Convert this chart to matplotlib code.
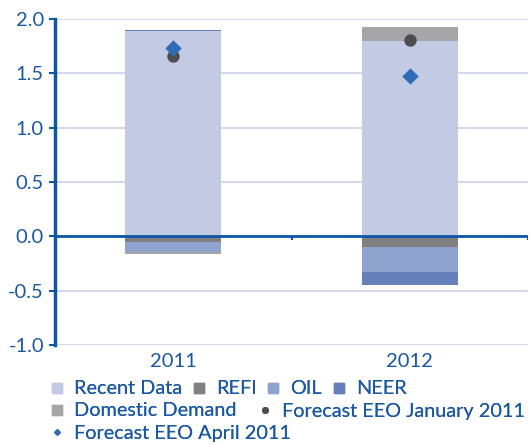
import matplotlib
matplotlib.use("Agg")
import matplotlib.pyplot as plt
import numpy as np
from matplotlib.lines import Line2D

plt.rcParams['font.family'] = ['Lato', 'DejaVu Sans']

categories = ['2011', '2012']
recent_data = [1.89, 1.80]
refi = [-0.05, -0.10]
oil = [-0.09, -0.23]
neer = [0.01, -0.12]
domestic_demand = [-0.02, 0.13]
forecast_jan = [1.66, 1.81]
forecast_apr = [1.735, 1.48]
yticks = [-1.0, -0.5, 0.0, 0.5, 1.0, 1.5, 2.0]

series = [
    ('Recent Data', recent_data, '#c3cbe4'),
    ('REFI', refi, '#808080'),
    ('OIL', oil, '#8fa3cf'),
    ('NEER', neer, '#6680bb'),
    ('Domestic Demand', domestic_demand, '#a6a6a8'),
]

TXT = '#1a58a4'
AX = '#0d58a6'

fig = plt.figure(figsize=(5.31, 4.45), dpi=100)
ax = fig.add_axes([55/531, 1-345/445, 473/531, (345-19)/445])

x = np.arange(len(categories))
w = 0.405
pos_base = np.zeros(len(x))
neg_base = np.zeros(len(x))
handles = {}
for name, vals, col in series:
    vals = np.array(vals, dtype=float)
    bottoms = np.where(vals >= 0, pos_base, neg_base)
    ax.bar(x, vals, w, bottom=bottoms, color=col, linewidth=0, zorder=2)
    pos_base = pos_base + np.where(vals >= 0, vals, 0)
    neg_base = neg_base + np.where(vals < 0, vals, 0)
    handles[name] = Line2D([], [], marker='s', linestyle='none', color=col, markersize=7)

ax.scatter(x, forecast_jan, s=80, color='#4d4d4f', marker='o', zorder=4, linewidths=0)
ax.scatter(x, forecast_apr, s=70, color='#2e6db5', marker='D', zorder=5, linewidths=0)
handles['Forecast EEO January 2011'] = Line2D([], [], marker='o', linestyle='none', color='#4d4d4f', markersize=4)
handles['Forecast EEO April 2011'] = Line2D([], [], marker='D', linestyle='none', color='#2e6db5', markersize=2.8)

ax.set_xlim(-0.5, 1.5)
ax.set_ylim(-1.0, 2.0)
ax.set_yticks(yticks)
ax.set_yticklabels([f'{v:.1f}' for v in yticks])
ax.yaxis.grid(True, color='#d3d8ec', linewidth=1.5, zorder=0)
ax.set_axisbelow(True)
ax.axhline(0, color=AX, linewidth=2, zorder=3)
ax.vlines([0.5, 1.5], -0.03, 0, color=AX, linewidth=1.5, zorder=3)

for s in ['top', 'right', 'bottom']:
    ax.spines[s].set_visible(False)
ax.spines['left'].set_color(AX)
ax.spines['left'].set_linewidth(2.5)
ax.tick_params(axis='y', colors=AX, labelcolor=TXT, length=4, width=1.5, labelsize=14.5, pad=4)
ax.set_xticks(x)
ax.set_xticklabels(categories)
ax.tick_params(axis='x', length=0, labelcolor=TXT, labelsize=14.5, pad=6)

def row(names, y, colsp):
    leg = fig.legend([handles[n] for n in names], names, loc='center left',
                     bbox_to_anchor=(49/531, 1 - y/445), ncol=len(names), frameon=False,
                     fontsize=14.3, labelcolor=TXT, handlelength=0.8, handletextpad=0.45,
                     columnspacing=colsp, borderpad=0, borderaxespad=0)
    fig.add_artist(leg)

row(['Recent Data', 'REFI', 'OIL', 'NEER'], 389, 0.45)
row(['Domestic Demand', 'Forecast EEO January 2011'], 411, 1.05)
row(['Forecast EEO April 2011'], 433, 0.7)

fig.savefig('out.png', dpi=100)
